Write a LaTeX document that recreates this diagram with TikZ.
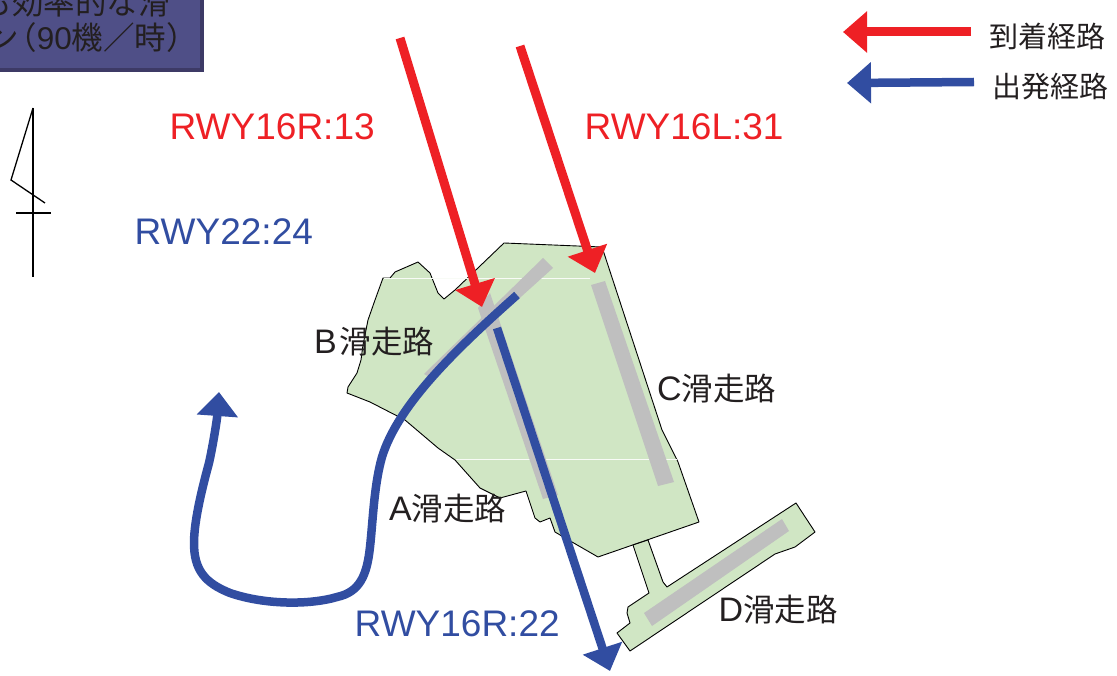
\documentclass[tikz,border=0pt]{standalone}
\usepackage{fontspec}
\setmainfont{Liberation Sans}
\newfontfamily\cjk{Noto Sans CJK JP}
\usetikzlibrary{arrows.meta}
\definecolor{landgreen}{HTML}{D0E6C4}
\definecolor{rwygray}{HTML}{BFBFBF}
\definecolor{arrred}{HTML}{EE2025}
\definecolor{arrblue}{HTML}{314DA1}
\definecolor{boxfill}{HTML}{4F4F87}
\definecolor{boxedge}{HTML}{3D3A66}
\definecolor{inktext}{HTML}{231F20}
\newcommand{\rwyname}{{\fontsize{31.5}{32}\selectfont\cjk 滑走路}}
\tikzset{
  land/.style={fill=landgreen,draw=black,line width=0.9pt,line join=round},
  runway/.style={fill=rwygray,draw=none},
  seam/.style={draw=white!85!landgreen,line width=0.5pt},
  arrivalarrow/.style={draw=arrred,line width=9pt,-{Triangle[length=24pt,width=40pt,fill=arrred]}},
  departarrow/.style={draw=arrblue,line width=8.5pt,-{Triangle[length=24pt,width=40pt,fill=arrblue]}},
  redlabel/.style={text=arrred,font=\fontsize{37}{37}\selectfont,inner sep=0pt},
  bluelabel/.style={text=arrblue,font=\fontsize{37}{37}\selectfont,inner sep=0pt},
  rwylabel/.style={text=inktext,font=\fontsize{34}{34}\selectfont,inner sep=0pt},
  legendlabel/.style={text=inktext,font=\fontsize{29}{29}\selectfont\cjk,inner sep=0pt},
  boxlabel/.style={text=inktext,font=\fontsize{31.5}{32}\selectfont,inner sep=0pt,anchor=east},
  northline/.style={draw=black,line width=1.3pt,line join=miter},
}
\begin{document}
\begin{tikzpicture}[x=1pt,y=-1pt]
\useasboundingbox (0,0) rectangle (1117,676);
\clip (0,0) rectangle (1117,676);
% title box
\fill[boxedge] (-10,-30) rectangle (204,72);
\fill[boxfill] (-10,-30) rectangle (200,68);
\node[boxlabel] (boxlineone) at (170,3) {\cjk も効率的な滑};
\node[boxlabel] (boxlinetwo) at (198,38) {{\cjk ン\kern-14pt（}90{\cjk 機／時）}};
% north mark
\draw[northline] (33,108) -- (33,277);
\draw[northline] (33,108) -- (11,180) -- (45,203);
\draw[northline] (16,213) -- (51,213);
% main airfield
\draw[land] (504,243) -- (602,247) -- (662,430) -- (678,462) -- (699,522) -- (598,557)
  -- (572,542) -- (555,532) -- (550,518) -- (540,522) -- (535,518) -- (526,491)
  -- (500,498) -- (480,488) -- (455,460) -- (438,448) -- (405,420) -- (370,402)
  -- (347,393) -- (348,387) -- (357,373) -- (361,360) -- (363,345) -- (368,320) -- (375,300)
  -- (383,278) -- (390,278) -- (395,272) -- (418,262) -- (430,273) -- (438,293)
  -- (444,299) -- (455,290) -- cycle;
% D runway island
\draw[land] (796,503) -- (815,532) -- (795,547) -- (775,554) -- (630,651) -- (617,633)
  -- (630,623) -- (627,613) -- (628,607) -- (649,593) -- (633,545) -- (648,540)
  -- (663,582) -- (667,587) -- cycle;
% seams
\draw[seam] (384,278) -- (590,278);
\draw[seam] (456,459) -- (677,459);
% runways
\fill[runway] (543,258) -- (553,268) -- (431,378) -- (424,374) -- cycle;
\fill[runway] (478,308) -- (490,293) -- (558,495) -- (543,499) -- cycle;
\fill[runway] (591,285) -- (605,281) -- (674,482) -- (658,486) -- cycle;
\fill[runway] (782,519) -- (789,531) -- (652,626) -- (644,613) -- cycle;
% arrivals
\coordinate (arrAstart) at (400,38);
\coordinate (arrAend) at (482,307);
\coordinate (arrBstart) at (520,46);
\coordinate (arrBend) at (595,273);
\draw[arrivalarrow] (arrAstart) -- (arrAend);
\draw[arrivalarrow] (arrBstart) -- (arrBend);
% departures
\coordinate (depAstart) at (497,328);
\coordinate (depAend) at (610,671);
\draw[departarrow] (depAstart) -- (depAend);
\coordinate (depBstart) at (517,295);
\coordinate (depBend) at (219,392);
\draw[departarrow] (depBstart) .. controls (455,350) and (398,405) .. (382,457)
  .. controls (374,485) and (373,520) .. (370,547)
  .. controls (367,575) and (360,592) .. (337,597)
  .. controls (310,605) and (265,605) .. (230,593)
  .. controls (205,583) and (194,570) .. (194,543)
  .. controls (194,520) and (203,485) .. (209,463)
  .. controls (213,445) and (217,420) .. (depBend);
% legend
\coordinate (legRstart) at (971,32);
\coordinate (legRend) at (843,32);
\coordinate (legBstart) at (974,82);
\coordinate (legBend) at (847,83);
\draw[arrivalarrow] (legRstart) -- (legRend);
\draw[departarrow] (legBstart) -- (legBend);
\node[legendlabel,anchor=west] (legendarr) at (989,36) {到着経路};
\node[legendlabel,anchor=west] (legenddep) at (992,87) {出発経路};
% route labels
\node[redlabel,anchor=west] (lblA) at (169.5,127) {RWY16R:13};
\node[redlabel,anchor=west] (lblB) at (584.5,127) {RWY16L:31};
\node[bluelabel,anchor=west] (lblC) at (134.5,232) {RWY22:24};
\node[bluelabel,anchor=west] (lblD) at (354.5,624) {RWY16R:22};
% runway labels
\node[rwylabel,anchor=west] (rwyB) at (314,342) {B\kern3pt\rwyname};
\node[rwylabel,anchor=west] (rwyC) at (657,389) {C\rwyname};
\node[rwylabel,anchor=west] (rwyA) at (389,509) {A\rwyname};
\node[rwylabel,anchor=west] (rwyD) at (718.5,610) {D\rwyname};
\end{tikzpicture}
\end{document}
